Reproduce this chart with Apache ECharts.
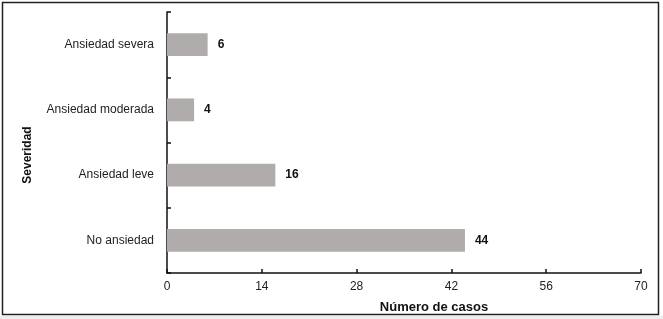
<!DOCTYPE html>
<html><head><meta charset="utf-8">
<script src="https://cdn.jsdelivr.net/npm/echarts@6/dist/echarts.min.js"></script>
<style>html,body{margin:0;padding:0;background:#fff}#c{width:663px;height:319px}</style>
</head><body><div id="c"></div>
<script>
const categories = ['No ansiedad', 'Ansiedad leve', 'Ansiedad moderada', 'Ansiedad severa'];
const casos = [44, 16, 4, 6];
const xTicks = [0, 14, 28, 42, 56, 70];

const chart = echarts.init(document.getElementById('c'));
chart.setOption({
  animation: false,
  backgroundColor: '#fff',
  textStyle: { fontFamily: 'Liberation Sans, Arial, sans-serif' },
  grid: { left: 167, right: 22, top: 12, bottom: 46 },
  graphic: [
    { type: 'rect', shape: { x: 2.5, y: 2.5, width: 656, height: 312 }, style: { fill: 'none', stroke: '#222', lineWidth: 1.5 }, z: 10 },
    { type: 'rect', shape: { x: 0, y: 316, width: 663, height: 3 }, style: { fill: '#eeeeee' }, z: 0 }
  ],
  xAxis: {
    type: 'value', min: xTicks[0], max: xTicks[xTicks.length - 1], interval: 14,
    name: 'Número de casos', nameLocation: 'middle', nameGap: 28,
    nameTextStyle: { fontWeight: 'bold', fontSize: 13, color: '#111', padding: [0, 0, 0, 60] },
    axisLine: { show: true, lineStyle: { color: '#111', width: 1.5 } },
    axisTick: { show: true, inside: true, length: 4, lineStyle: { color: '#111', width: 1.5 } },
    axisLabel: { color: '#222', fontSize: 12, margin: 8 },
    splitLine: { show: false }
  },
  yAxis: {
    type: 'category', data: categories,
    name: 'Severidad', nameLocation: 'middle', nameGap: 133, nameRotate: 90,
    nameTextStyle: { fontWeight: 'bold', fontSize: 12, color: '#111', padding: [0, 25, 0, 0] },
    axisLine: { show: true, lineStyle: { color: '#111', width: 1.5 } },
    axisTick: { show: true, inside: true, length: 4, lineStyle: { color: '#111', width: 1.5 } },
    axisLabel: { color: '#222', fontSize: 12, margin: 13 }
  },
  series: [{
    type: 'bar', data: casos, barWidth: '35%',
    itemStyle: { color: '#b1acac' },
    label: { show: true, position: 'right', distance: 10, color: '#111', fontSize: 12, fontWeight: 'bold' }
  }]
});
</script></body></html>
